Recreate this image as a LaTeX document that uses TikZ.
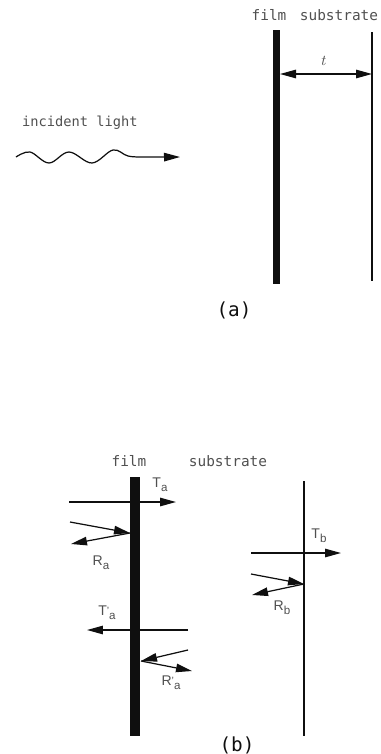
\documentclass[tikz,border=0pt]{standalone}
\usepackage{fontspec}
\usepackage{xcolor}
\usetikzlibrary{arrows.meta}
\setmonofont{DejaVu Sans Mono}
\setsansfont{Liberation Sans}
\definecolor{myink}{RGB}{15,15,15}
\definecolor{mylabel}{RGB}{80,80,80}
\newcommand{\lowpart}[1]{\raisebox{-2.2pt}{\fontsize{6.6}{8}\selectfont #1}}
\newcommand{\primed}[1]{\raisebox{0.8pt}{\fontsize{6}{8}\selectfont '}\lowpart{#1}}

\begin{document}
\begin{tikzpicture}[x=0.02cm, y=-0.02cm,
  film/.style={rectangle, fill=myink, inner sep=0pt, minimum width=0.19cm},
  label/.style={font=\fontsize{8.2}{10}\ttfamily, text=mylabel, inner sep=0pt},
  sublabel/.style={font=\fontsize{8}{10}\sffamily, text=mylabel, inner sep=0pt},
  ray/.style={-{Triangle[length=0.32cm, width=0.17cm]}, myink, line width=0.7pt},
  twoway/.style={{Triangle[length=0.32cm, width=0.17cm]}-{Triangle[length=0.32cm, width=0.17cm]}, myink, line width=0.7pt},
  wall/.style={myink, line width=0.7pt}]

\useasboundingbox (0,0) rectangle (380,754);

% part (a)
\node[film, minimum width=0.14cm, minimum height=5.08cm] (filma) at (276.5,157) {};
\coordinate (suba top) at (372,32);
\coordinate (suba bot) at (372,281);
\draw[wall] (suba top) -- (suba bot);
\coordinate (ta left) at (280,74);
\coordinate (ta right) at (372,74);
\draw[twoway] (ta left) -- (ta right);
\node[font=\fontsize{8.5}{9}\itshape, text=mylabel, inner sep=0pt] (tlabel) at (323,61) {t};
\node[label] (filmlabela) at (269,15) {film};
\node[label] (sublabela) at (339,15) {substrate};
\node[label, font=\fontsize{7.8}{10}\ttfamily] (incident) at (80,123) {incident light};
\node[label, text=myink, font=\fontsize{11}{12}\ttfamily] (capa) at (234,310) {(a)};
\draw[ray] plot[smooth, tension=0.6] coordinates {(16,157) (30,152) (49,163) (69,152) (92,163) (113,150) (128,156) (145,157) (180,157)};

% part (b)
\node[film, minimum height=5.18cm] (filmb) at (135,606.5) {};
\coordinate (subb top) at (304,481);
\coordinate (subb bot) at (304,736);
\draw[wall] (subb top) -- (subb bot);
\node[label] (filmlabelb) at (129,461) {film};
\node[label] (sublabelb) at (228,461) {substrate};
\node[label, text=myink, font=\fontsize{11}{12}\ttfamily] (capb) at (237,745) {(b)};

\coordinate (a0) at (69,502);
\coordinate (a1) at (176,502);
\draw[ray] (a0) -- (a1);
\node[sublabel] (Ta) at (160,485) {T\lowpart{a}};

\coordinate (a2) at (70,522);
\coordinate (a3) at (130,533);
\coordinate (a4) at (71,544);
\draw[ray] (a2) -- (a3);
\draw[ray] (a3) -- (a4);
\node[sublabel] (Ra) at (101,563) {R\lowpart{a}};

\coordinate (a5) at (188,630);
\coordinate (a6) at (87,630);
\draw[ray] (a5) -- (a6);
\node[sublabel] (Tpa) at (107,613) {T\primed{a}};

\coordinate (a7) at (188,650);
\coordinate (a8) at (141,661);
\coordinate (a9) at (192,671);
\draw[ray] (a7) -- (a8);
\draw[ray] (a8) -- (a9);
\node[sublabel] (Rpa) at (171,683) {R\primed{a}};

\coordinate (b0) at (251,553);
\coordinate (b1) at (341,553);
\draw[ray] (b0) -- (b1);
\node[sublabel] (Tb) at (319,536) {T\lowpart{b}};

\coordinate (b2) at (251,574);
\coordinate (b3) at (304,584);
\coordinate (b4) at (252,595);
\draw[ray] (b2) -- (b3);
\draw[ray] (b3) -- (b4);
\node[sublabel] (Rb) at (282,608) {R\lowpart{b}};
\end{tikzpicture}
\end{document}
